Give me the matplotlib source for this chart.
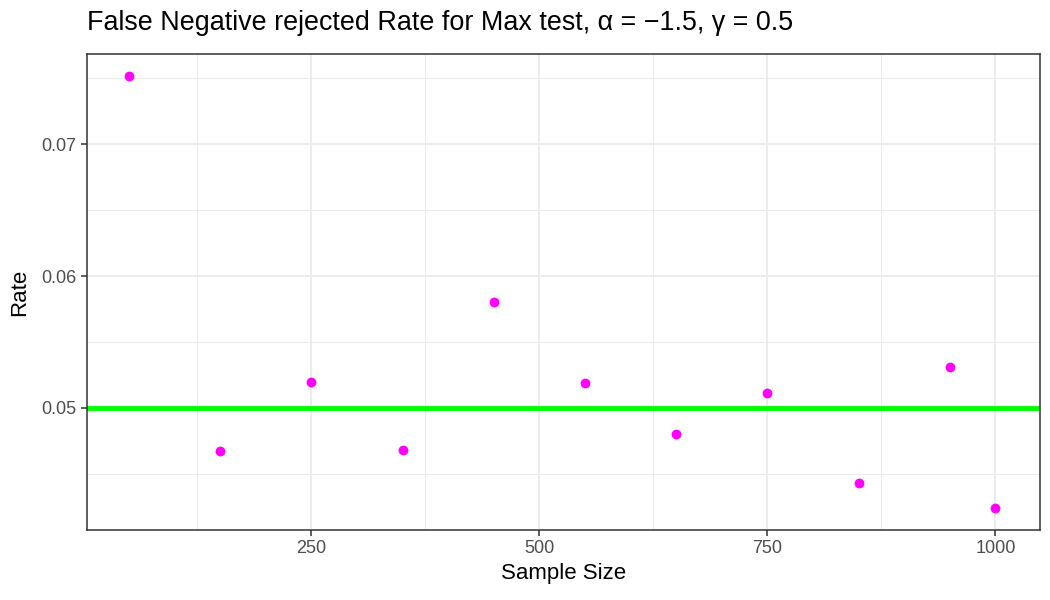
import matplotlib
matplotlib.use("Agg")
from matplotlib import pyplot as plt
from matplotlib.ticker import FixedLocator

# values
sample_size = [50, 150, 250, 350, 450, 550, 650, 750, 850, 950, 1000]
rate = [0.0752, 0.0467, 0.0520, 0.0468, 0.0580, 0.0519,
        0.0480, 0.0511, 0.0443, 0.0531, 0.0424]
nominal_level = 0.05

x_ticks = [250, 500, 750, 1000]
x_minor = [125, 375, 625, 875]
y_ticks = [0.05, 0.06, 0.07]
y_minor = [0.045, 0.055, 0.065, 0.075]

plt.rcParams["font.family"] = ["Liberation Sans", "DejaVu Sans"]

fig = plt.figure(figsize=(10.5, 6), dpi=100)
ax = fig.add_axes([0.0829, 0.1167, 0.9076, 0.7933])

ax.xaxis.set_major_locator(FixedLocator(x_ticks))
ax.xaxis.set_minor_locator(FixedLocator(x_minor))
ax.yaxis.set_major_locator(FixedLocator(y_ticks))
ax.yaxis.set_minor_locator(FixedLocator(y_minor))
ax.set_yticklabels([f"{v:.2f}" for v in y_ticks])

ax.grid(which="major", color="#ebebeb", linewidth=1.3)
ax.grid(which="minor", color="#ebebeb", linewidth=0.7)
ax.set_axisbelow(True)

ax.axhline(nominal_level, color="#00ff00", linewidth=3.5, zorder=2)
ax.scatter(sample_size, rate, s=50, color="#ff00ff", zorder=3, linewidths=0)

ax.set_xlim(4, 1049)
ax.set_ylim(0.04074, 0.07684)

for spine in ax.spines.values():
    spine.set_color("#333333")
    spine.set_linewidth(1.1)
ax.tick_params(which="major", length=4, color="#333333", width=1.1,
               labelsize=13, labelcolor="#4d4d4d")
ax.tick_params(which="minor", length=0)

ax.set_xlabel("Sample Size", fontsize=16, labelpad=4)
ax.set_ylabel("Rate", fontsize=16, labelpad=8)
fig.text(0.0829, 0.962, "False Negative rejected Rate for Max test, α = −1.5, γ = 0.5",
         fontsize=19.4, ha="left", va="center")

fig.savefig("out.png", dpi=100)
plt.close()
